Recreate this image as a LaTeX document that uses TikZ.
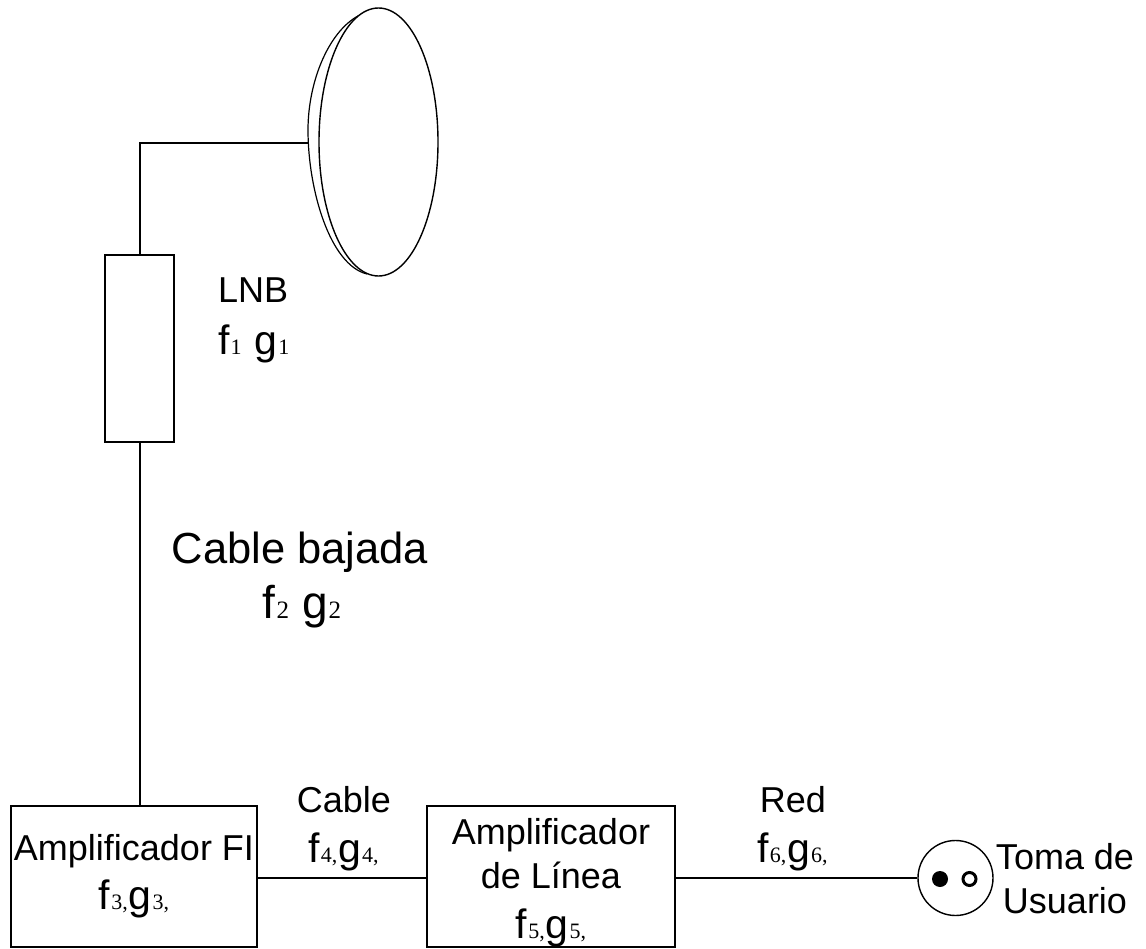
\documentclass[tikz,border=0pt]{standalone}
\usepackage{fontspec}
\setmainfont{Liberation Sans}
\newfontfamily\subfont{Liberation Serif}
\usetikzlibrary{shapes.geometric}
\newcommand{\tsz}{\fontsize{36}{50}\selectfont}
\newcommand{\bigsz}{\fontsize{43.5}{55}\selectfont}
\newcommand{\fsub}[1]{{\subfont\fontsize{22}{22}\selectfont\hspace{1pt}#1\hspace{1pt}}}
\newcommand{\fg}[2]{{\fontsize{41}{50}\selectfont f\fsub{#1}g\fsub{#2}}}
\newcommand{\fgs}[2]{{\fontsize{41}{50}\selectfont f\fsub{#1}\hspace{12pt}g\fsub{#2}}}
\newcommand{\fgb}[2]{{\fontsize{46}{50}\selectfont f{\subfont\fontsize{25}{25}\selectfont\hspace{1pt}#1\hspace{13pt}}g{\subfont\fontsize{25}{25}\selectfont\hspace{1pt}#2}}}
\tikzset{
  wire/.style={draw=black,line width=1.4pt},
  boxn/.style={draw=black,line width=1.4pt,rectangle,inner sep=0pt,align=center},
  lab/.style={inner sep=0pt,align=center,font=\tsz,text=black},
  dish/.style={draw=black,line width=1.4pt,ellipse,inner sep=0pt,fill=white}
}
\begin{document}
\begin{tikzpicture}[x=1pt,y=-1pt]
\useasboundingbox (0,0) rectangle (1146,949);
\fill[white] (0,0) rectangle (1146,949);
% dish
\draw[wire,line width=1.2pt] (362,14) .. controls (330,28) and (308,80) .. (308,130) .. controls (308,190) and (330,265) .. (367,274);
\node[dish,minimum width=119pt,minimum height=268pt] (dish) at (378.5,142) {};
\coordinate (dishback) at (308,143);
\coordinate (bend) at (140,143);
% boxes
\node[boxn,minimum width=69pt,minimum height=187pt] (lnb) at (139.5,348.5) {};
\node[boxn,minimum width=246pt,minimum height=141pt,font=\tsz] (fi) at (134,876.5) {Amplificador FI\\[-1pt]\fg{3,}{3,}};
\node[boxn,minimum width=248pt,minimum height=141pt] (al) at (551,876.5) {};
\node[lab,anchor=base] (altext) at (551,938) {Amplificador\\[-6pt]de Línea\\[0pt]\fg{5,}{5,}};
% socket
\node[circle,draw=black,line width=1.4pt,minimum size=75pt,inner sep=0pt] (toma) at (955.5,878) {};
\node[circle,fill=black,minimum size=16pt,inner sep=0pt] (hot) at (940,879) {};
\node[circle,draw=black,line width=3pt,fill=white,minimum size=13pt,inner sep=0pt] (neu) at (969.5,879) {};
% connectors
\draw[wire] (dishback) -- (bend) -- (lnb.north -| bend);
\draw[wire] (lnb.south -| bend) -- (fi.north -| bend);
\draw[wire] ([yshift=-1.5pt]fi.east) -- ([yshift=-1.5pt]al.west);
\draw[wire] ([yshift=-1.5pt]al.east) -- (toma.west);
% labels
\node[lab,anchor=base west] (l1) at (218,303) {LNB};
\node[lab,anchor=base west] (l2) at (218,355) {\fgs{1}{1}};
\node[lab,font=\bigsz,anchor=base] (l3) at (300,563) {Cable bajada};
\node[lab,anchor=base] (l4) at (302,618) {\fgb{2}{2}};
\node[lab,anchor=base] (l5) at (344,812) {Cable};
\node[lab,anchor=base] (l6) at (344,862) {\fg{4,}{4,}};
\node[lab,anchor=base] (l7) at (793,812) {Red};
\node[lab,anchor=base] (l8) at (793,862) {\fg{6,}{6,}};
\node[lab,anchor=base] (l9) at (1065,869) {Toma de};
\node[lab,anchor=base] (l10) at (1065,913) {Usuario};
\end{tikzpicture}
\end{document}
